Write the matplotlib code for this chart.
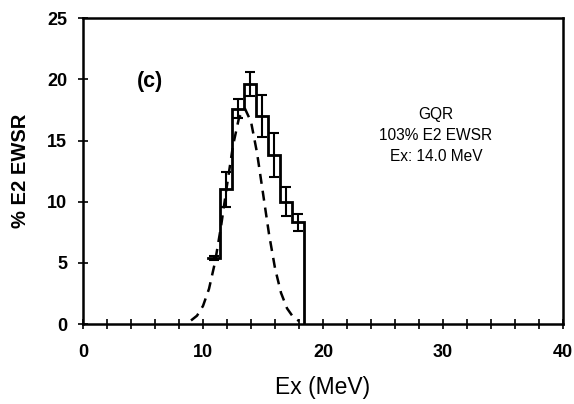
import matplotlib
matplotlib.use("Agg")
import matplotlib.pyplot as plt
import numpy as np

plt.rcParams['font.family'] = ['Liberation Sans', 'DejaVu Sans']

# Data
bin_centers = [10.9, 11.9, 12.9, 13.9, 14.9, 15.9, 16.9, 17.9]
strength = [5.4, 11.0, 17.6, 19.6, 17.0, 13.8, 10.0, 8.3]
errors = [0.2, 1.4, 0.8, 1.0, 1.7, 1.8, 1.2, 0.7]

fit_x = [9.0, 9.5, 10.0, 10.5, 11.0, 11.5, 12.0, 12.5, 13.0, 13.5, 14.0,
         14.5, 15.0, 15.5, 16.0, 16.5, 17.0, 17.5, 18.0]
fit_y = [0.29, 0.68, 1.48, 2.88, 5.05, 7.98, 11.36, 14.59, 16.87, 17.59, 16.53,
         13.99, 10.67, 7.34, 4.55, 2.54, 1.28, 0.58, 0.24]

x_ticks = list(range(0, 41, 2))
x_labeled = ['0', '10', '20', '30', '40']
y_ticklabels = ['0', '5', '10', '15', '20', '25']

fig = plt.figure(figsize=(5.74, 4.04), dpi=100)
ax = fig.add_axes([0.1446, 0.198, 0.8364, 0.757])

# histogram steps
half = 0.5
edges = [c - half for c in bin_centers] + [bin_centers[-1] + half]
sx = []
sy = []
for i, v in enumerate(strength):
    sx += [edges[i], edges[i + 1]]
    sy += [v, v]
sx.append(edges[-1])
sy.append(0)
ax.plot(sx, sy, color='black', lw=2.0, solid_joinstyle='miter')

ax.errorbar(bin_centers, strength, yerr=errors, fmt='none', ecolor='black',
            elinewidth=1.5, capsize=3.5, capthick=1.5)

ax.plot(fit_x, fit_y, color='black', lw=1.8, linestyle=(0, (4, 2.8)))

ax.set_xlim(0, 40)
ax.set_ylim(0, 25)
ax.set_xticks(x_ticks)
ax.set_xticklabels([str(v) if str(v) in x_labeled else '' for v in x_ticks])
ax.set_yticks([0, 5, 10, 15, 20, 25])
ax.set_yticklabels(y_ticklabels)
ax.tick_params(direction='inout', length=7, width=1.2, colors='black')
ax.tick_params(axis='x', pad=11)
ax.tick_params(axis='y', pad=8)
for lbl in ax.get_xticklabels() + ax.get_yticklabels():
    lbl.set_fontweight('bold')
    lbl.set_fontsize(13)
for s in ax.spines.values():
    s.set_linewidth(1.8)

ax.set_xlabel('Ex (MeV)', fontsize=16.5, labelpad=11)
ax.set_ylabel('% E2 EWSR', fontsize=14.5, fontweight='bold', labelpad=12)

ax.text(5.6, 19.8, '(c)', fontsize=15.5, fontweight='bold', ha='center', va='center')
ax.text(29.4, 15.4, 'GQR\n103% E2 EWSR\nEx: 14.0 MeV', fontsize=11.2,
        ha='center', va='center', linespacing=1.5)

fig.savefig('out.png', dpi=100)
